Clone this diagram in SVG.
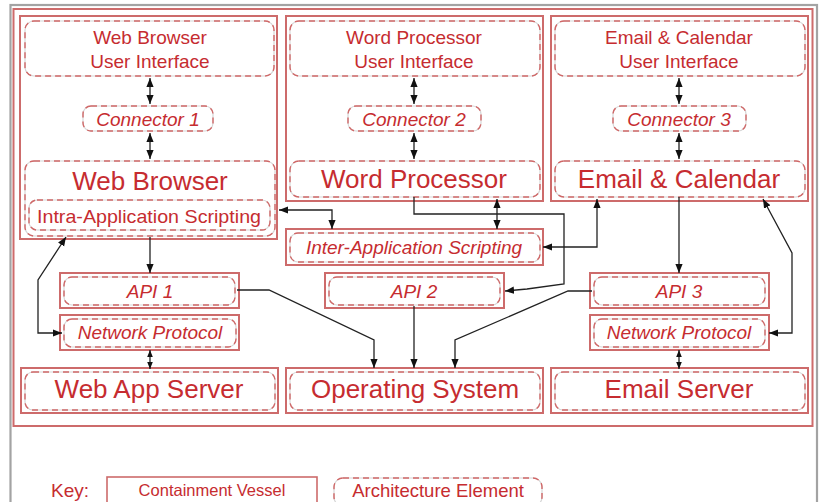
<svg xmlns="http://www.w3.org/2000/svg" width="822" height="502" viewBox="0 0 822 502">
<defs>
<marker id="ah" viewBox="0 0 10 10" refX="10" refY="5" markerWidth="9" markerHeight="9" markerUnits="userSpaceOnUse" orient="auto-start-reverse"><path d="M0,1 L10,5 L0,9 z" fill="#111"/></marker>
<marker id="as" viewBox="0 0 10 10" refX="10" refY="5" markerWidth="7" markerHeight="7" markerUnits="userSpaceOnUse" orient="auto-start-reverse"><path d="M0,1 L10,5 L0,9 z" fill="#111"/></marker>
<style>
.frame{fill:#fff;stroke:#a3a3a3;stroke-width:2.2}
.vessel{fill:#fff;stroke:#cd6b6b;stroke-width:2}
.ag{fill:none;stroke:#d6d6d6;stroke-width:1.2}
.ad{fill:none;stroke:#d06868;stroke-width:1.4;stroke-dasharray:6,4}
.t{font-family:"Liberation Sans",Arial,sans-serif;fill:#c62c30;text-anchor:middle}
.m{font-size:19px}
.l{font-size:26px}
.i{font-style:italic}
.c{fill:none;stroke:#222;stroke-width:1.3}
.a2{marker-start:url(#ah);marker-end:url(#ah)}
.s2{marker-start:url(#as);marker-end:url(#as)}
.a1{marker-end:url(#ah)}
</style>
</defs>
<rect x="0" y="0" width="822" height="502" fill="#fff"/>
<rect class="frame" x="10.5" y="5" width="806.5" height="500"/>
<rect class="vessel" x="13.5" y="9" width="799" height="417"/>

<g id="web-browser-vessel">
<rect class="vessel" x="20" y="16" width="257" height="223"/>
</g>
<g id="web-browser-ui">
<rect class="ag" x="25" y="21" width="249" height="55" rx="9"/><rect class="ad" x="25" y="21" width="249" height="55" rx="9"/>
<text class="t m" x="150" y="44">Web Browser</text><text class="t m" x="150" y="68">User Interface</text>
</g>
<g id="connector-1">
<rect class="ag" x="83" y="106" width="130" height="25" rx="8"/><rect class="ad" x="83" y="106" width="130" height="25" rx="8"/>
<text class="t m i" x="148" y="126">Connector 1</text>
</g>
<g id="web-browser">
<rect class="ag" x="25" y="161" width="250" height="75" rx="9"/><rect class="ad" x="25" y="161" width="250" height="75" rx="9"/>
<text class="t l" x="150" y="190">Web Browser</text>
</g>
<g id="intra-app-scripting">
<rect class="ag" x="29" y="200" width="241" height="30" rx="8"/><rect class="ad" x="29" y="200" width="241" height="30" rx="8"/>
<text class="t m" x="149" y="223" textLength="224" lengthAdjust="spacingAndGlyphs">Intra-Application Scripting</text>
</g>

<g id="word-processor-vessel">
<rect class="vessel" x="286" y="16" width="257" height="185"/>
</g>
<g id="word-processor-ui">
<rect class="ag" x="290" y="21" width="250" height="55" rx="9"/><rect class="ad" x="290" y="21" width="250" height="55" rx="9"/>
<text class="t m" x="414" y="44">Word Processor</text><text class="t m" x="414" y="68">User Interface</text>
</g>
<g id="connector-2">
<rect class="ag" x="348" y="106" width="133" height="25" rx="8"/><rect class="ad" x="348" y="106" width="133" height="25" rx="8"/>
<text class="t m i" x="414" y="126">Connector 2</text>
</g>
<g id="word-processor">
<rect class="ag" x="290" y="161" width="250" height="36" rx="9"/><rect class="ad" x="290" y="161" width="250" height="36" rx="9"/>
<text class="t l" x="414" y="188">Word Processor</text>
</g>

<g id="email-calendar-vessel">
<rect class="vessel" x="551" y="16" width="257" height="185"/>
</g>
<g id="email-calendar-ui">
<rect class="ag" x="555" y="21" width="250" height="55" rx="9"/><rect class="ad" x="555" y="21" width="250" height="55" rx="9"/>
<text class="t m" x="679" y="44">Email &amp; Calendar</text><text class="t m" x="679" y="68">User Interface</text>
</g>
<g id="connector-3">
<rect class="ag" x="613" y="106" width="133" height="25" rx="8"/><rect class="ad" x="613" y="106" width="133" height="25" rx="8"/>
<text class="t m i" x="679" y="126">Connector 3</text>
</g>
<g id="email-calendar">
<rect class="ag" x="555" y="161" width="250" height="36" rx="9"/><rect class="ad" x="555" y="161" width="250" height="36" rx="9"/>
<text class="t l" x="679" y="188">Email &amp; Calendar</text>
</g>

<g id="inter-app-scripting">
<rect class="vessel" x="286" y="229" width="257" height="36"/>
<rect class="ag" x="290" y="233" width="250" height="29" rx="8"/><rect class="ad" x="290" y="233" width="250" height="29" rx="8"/>
<text class="t m i" x="414" y="254">Inter-Application Scripting</text>
</g>

<g id="api-1">
<rect class="vessel" x="60" y="273" width="179" height="35"/>
<rect class="ag" x="64" y="277" width="171" height="28" rx="8"/><rect class="ad" x="64" y="277" width="171" height="28" rx="8"/>
<text class="t m i" x="150" y="298">API 1</text>
</g>
<g id="network-protocol-1">
<rect class="vessel" x="60" y="315" width="179" height="35"/>
<rect class="ag" x="64" y="319" width="172" height="28" rx="8"/><rect class="ad" x="64" y="319" width="172" height="28" rx="8"/>
<text class="t m i" x="150" y="339">Network Protocol</text>
</g>
<g id="web-app-server">
<rect class="vessel" x="21" y="368" width="257" height="45"/>
<rect class="ag" x="25" y="372" width="250" height="38" rx="8"/><rect class="ad" x="25" y="372" width="250" height="38" rx="8"/>
<text class="t l" x="149" y="398">Web App Server</text>
</g>

<g id="api-2">
<rect class="vessel" x="325" y="273" width="179" height="35"/>
<rect class="ag" x="329" y="277" width="171" height="28" rx="8"/><rect class="ad" x="329" y="277" width="171" height="28" rx="8"/>
<text class="t m i" x="414" y="298">API 2</text>
</g>
<g id="operating-system">
<rect class="vessel" x="286" y="368" width="257" height="45"/>
<rect class="ag" x="290" y="372" width="250" height="38" rx="8"/><rect class="ad" x="290" y="372" width="250" height="38" rx="8"/>
<text class="t l" x="415" y="398">Operating System</text>
</g>

<g id="api-3">
<rect class="vessel" x="590" y="273" width="179" height="35"/>
<rect class="ag" x="594" y="277" width="171" height="28" rx="8"/><rect class="ad" x="594" y="277" width="171" height="28" rx="8"/>
<text class="t m i" x="679" y="298">API 3</text>
</g>
<g id="network-protocol-3">
<rect class="vessel" x="590" y="315" width="179" height="35"/>
<rect class="ag" x="594" y="319" width="171" height="28" rx="8"/><rect class="ad" x="594" y="319" width="171" height="28" rx="8"/>
<text class="t m i" x="679" y="339">Network Protocol</text>
</g>
<g id="email-server">
<rect class="vessel" x="551" y="368" width="257" height="45"/>
<rect class="ag" x="555" y="372" width="250" height="38" rx="8"/><rect class="ad" x="555" y="372" width="250" height="38" rx="8"/>
<text class="t l" x="679" y="398">Email Server</text>
</g>

<g id="connectors">
<path class="c a2" d="M150,78 V104"/>
<path class="c a2" d="M150,133 V159"/>
<path class="c a2" d="M414,78 V104"/>
<path class="c a2" d="M414,133 V159"/>
<path class="c a2" d="M679,78 V104"/>
<path class="c a2" d="M679,133 V159"/>
<path class="c a1" d="M150,237 V273"/>
<path class="c a2" d="M279,210 H332 V229"/>
<path class="c a2" d="M497,199 V229"/>
<path class="c a1" d="M414,197 V214 H564 V284 L527,289 L505,291"/>
<path class="c a2" d="M597,199 V247 H543"/>
<path class="c a1" d="M679,197 V273"/>
<path class="c a2" d="M763,199 L792,253 V333 H769"/>
<path class="c a2" d="M62,333 H38 V280 L66,237"/>
<path class="c a1" d="M237,290 H269 L374,340 V368"/>
<path class="c a1" d="M414,306 V368"/>
<path class="c a1" d="M592,291 H568 L455,340 V368"/>
<path class="c s2" d="M150,350 V369"/>
<path class="c s2" d="M679,350 V369"/>
</g>

<g id="key">
<text class="t" x="70" y="497" style="font-size:19px">Key:</text>
<rect class="vessel" x="107" y="477" width="210" height="28" style="stroke-width:1.6"/>
<text class="t" x="212" y="496" style="font-size:16.5px">Containment Vessel</text>
<rect class="ag" x="334" y="478" width="208" height="28" rx="9"/><rect class="ad" x="334" y="478" width="208" height="28" rx="9"/>
<text class="t" x="438" y="497" style="font-size:18.5px">Architecture Element</text>
</g>
</svg>
